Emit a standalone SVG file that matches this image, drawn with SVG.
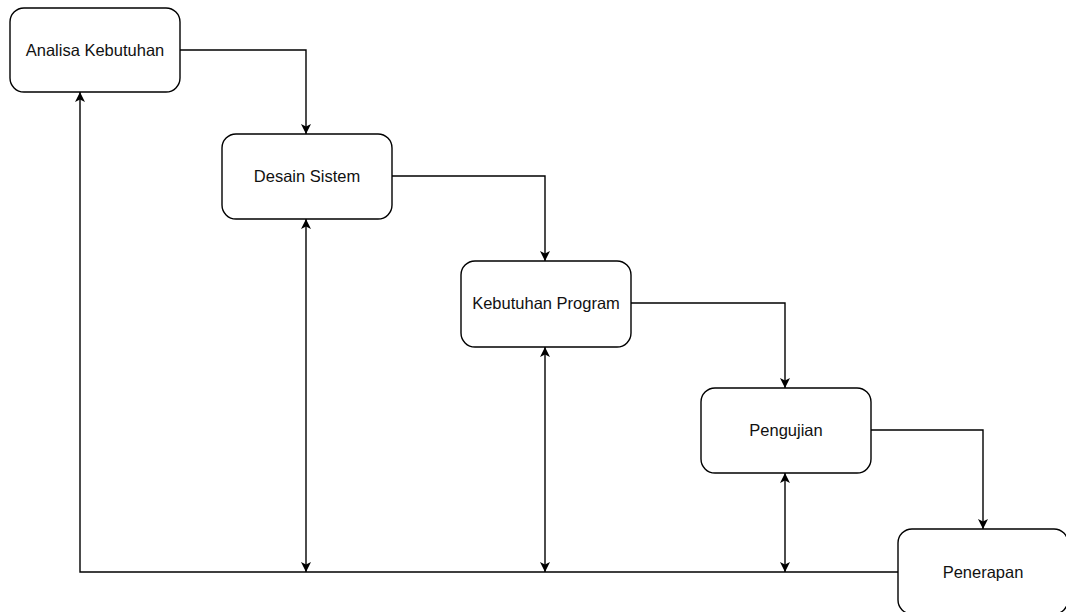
<svg xmlns="http://www.w3.org/2000/svg" width="1066" height="612" viewBox="0 0 1066 612">
<style>
.node rect{fill:#fff;stroke:#000;stroke-width:1.4}
.node text{font-family:"Liberation Sans",Arial,sans-serif;font-size:16.5px;fill:#111;text-anchor:middle;dominant-baseline:central}
.edge{fill:none;stroke:#000;stroke-width:1.4}
</style>
<defs>
<marker id="arr" viewBox="0 0 10 10" refX="10" refY="5" markerWidth="10" markerHeight="10" markerUnits="userSpaceOnUse" orient="auto-start-reverse">
<path d="M0,0 L10,5 L0,10 L2.5,5 Z" fill="#000"/>
</marker>
</defs>
<rect width="1066" height="612" fill="#fff"/>
<g id="connectors">
<path class="edge" d="M180,50 H306 V134" marker-end="url(#arr)"/>
<path class="edge" d="M392,176 H545 V261" marker-end="url(#arr)"/>
<path class="edge" d="M631,303 H785 V388" marker-end="url(#arr)"/>
<path class="edge" d="M871,430 H983 V529" marker-end="url(#arr)"/>
<path class="edge" d="M898,572 H80 V92" marker-end="url(#arr)"/>
<path class="edge" d="M306,572 V219" marker-start="url(#arr)" marker-end="url(#arr)"/>
<path class="edge" d="M545,572 V347" marker-start="url(#arr)" marker-end="url(#arr)"/>
<path class="edge" d="M785,572 V473" marker-start="url(#arr)" marker-end="url(#arr)"/>
</g>
<g id="analisa" class="node"><rect x="10" y="8" width="170" height="84" rx="14"/><text x="95" y="50">Analisa Kebutuhan</text></g>
<g id="desain" class="node"><rect x="222" y="134" width="170" height="85" rx="14"/><text x="307" y="176">Desain Sistem</text></g>
<g id="kebutuhan" class="node"><rect x="461" y="261" width="170" height="86" rx="14"/><text x="546" y="303">Kebutuhan Program</text></g>
<g id="pengujian" class="node"><rect x="701" y="388" width="170" height="85" rx="14"/><text x="786" y="430">Pengujian</text></g>
<g id="penerapan" class="node"><rect x="898" y="529" width="170" height="85" rx="14"/><text x="983" y="572">Penerapan</text></g>
</svg>
